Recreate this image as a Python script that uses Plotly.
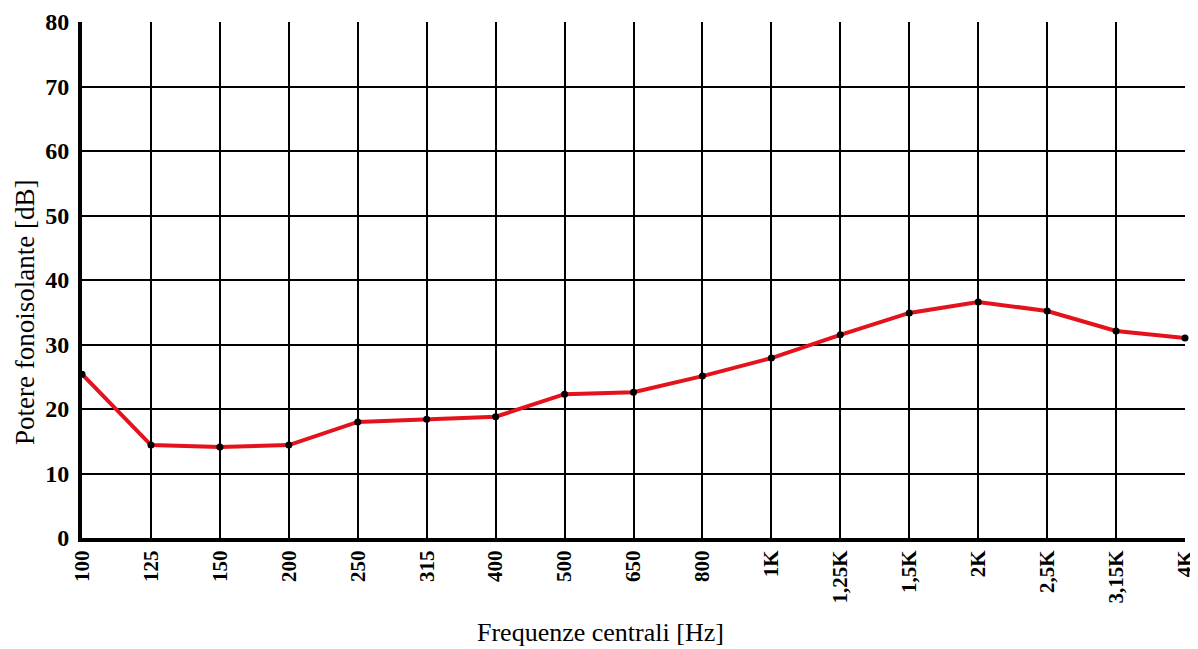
import plotly.graph_objects as go

freqs = ["100", "125", "150", "200", "250", "315", "400", "500", "650", "800",
         "1K", "1,25K", "1,5K", "2K", "2,5K", "3,15K", "4K"]
db_values = [25.4, 14.4, 14.1, 14.4, 18.0, 18.4, 18.8, 22.3, 22.6, 25.1,
             27.9, 31.5, 34.9, 36.6, 35.2, 32.1, 31.0]
y_ticks = [0, 10, 20, 30, 40, 50, 60, 70, 80]

fig = go.Figure()
fig.add_trace(go.Scatter(
    x=list(range(len(freqs))), y=db_values, mode="lines+markers",
    line=dict(color="#e3121c", width=4),
    marker=dict(color="black", size=7),
    cliponaxis=False, showlegend=False,
))

serif = "Liberation Serif, Times New Roman, serif"
fig.update_layout(
    width=1198, height=649,
    margin=dict(l=74, r=21, t=14, b=119),
    paper_bgcolor="white", plot_bgcolor="white",
    font=dict(family=serif, color="black"),
    xaxis=dict(
        range=[0, len(freqs) - 1], automargin=False,
        tickmode="array", tickvals=list(range(len(freqs))), ticktext=freqs,
        tickangle=-90, tickfont=dict(size=21, family=serif, weight="bold"),
        showgrid=True, gridcolor="black", gridwidth=2,
        showline=True, linecolor="black", linewidth=4,
        zeroline=False, ticks="",
    ),
    yaxis=dict(
        range=[0, 80], automargin=False,
        tickmode="array", tickvals=y_ticks,
        tickfont=dict(size=24, family=serif, weight="bold"),
        ticklabelstandoff=4,
        showgrid=True, gridcolor="black", gridwidth=2,
        showline=True, linecolor="black", linewidth=4,
        zeroline=False, ticks="",
    ),
    annotations=[
        dict(text="Frequenze centrali [Hz]", xref="paper", yref="paper",
             x=0.4705, y=0, xanchor="center", yanchor="top", yshift=-78,
             showarrow=False, font=dict(size=26, family=serif)),
        dict(text="Potere fonoisolante [dB]", xref="paper", yref="paper",
             x=-0.0517, y=0.438, xanchor="center", yanchor="middle", textangle=-90,
             showarrow=False, font=dict(size=27, family=serif)),
    ],
)

fig.write_html("out.html")
